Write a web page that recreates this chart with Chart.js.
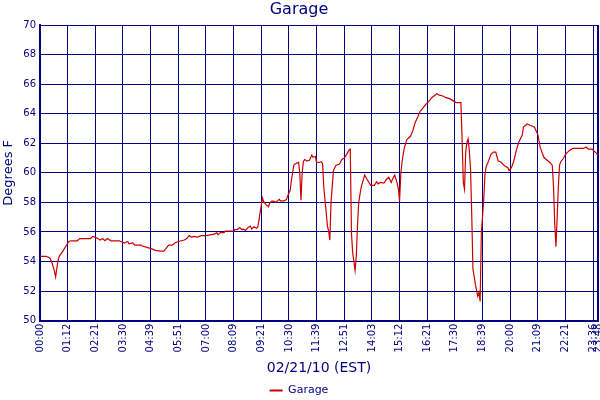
<!DOCTYPE html>
<html>
<head>
<meta charset="utf-8">
<script src="https://cdn.jsdelivr.net/npm/chart.js@4.4.1/dist/chart.umd.min.js"></script>
<style>
html,body{margin:0;padding:0;background:#fff;}
#wrap{width:600px;height:400px;position:relative;}
</style>
</head>
<body>
<div id="wrap"><canvas id="c" width="600" height="400"></canvas></div>
<script>
// Sample index (3-minute samples) and garage temperature (°F)
const sampleIdx = [
  0,1,5,8,9,10,12,13,14,15,16,19,22,24,26,31,33,42,44,47,50,52,54,56,59,66,70,73,74,77,79,84,85,89,93,96,100,103,105,107,110,112,115,120,122,124,126,128,
  131,134,138,145,147,148,150,153,154,161,162,164,166,168,169,171,173,175,176,178,180,181,182,183,184,185,186,188,190,191,193,195,196,199,200,203,205,206,208,209,210,211,212,215,216,217,218,219,220,222,224,226,227,229,230,232,234,235,
  236,238,239,240,241,242,244,246,249,251,253,255,257,258,259,260,261,262,263,264,265,267,268,270,272,275,278,280,281,283,286,288,290,292,293,295,297,298,299,300,301,302,303,305,308,310,312,314,316,318,321,324,326,330,332,335,337,341,344,346,350,
  351,352,353,354,355,356,357,358,359,360,361,362,364,365,366,367,368,369,370,371,373,375,377,379,381,383,386,389,390,392,394,396,398,401,402,405,408,411,414,416,419,421,424,426,427,428,429,430,431,432,433,435,437,440,443,448,452,454,456,459,463,464
];
const garageTemps = [
  54.4,54.35,54.35,54.25,54.1,53.9,53.35,52.95,53.55,54.05,54.35,54.7,55.1,55.35,55.4,55.4,55.55,55.55,55.7,55.6,55.45,55.55,55.4,55.55,55.4,55.4,55.25,55.35,55.2,55.25,55.1,55.1,55.05,54.95,54.85,54.75,54.7,54.7,54.9,55.1,55.1,55.25,55.35,55.45,55.55,55.75,55.65,55.7,
  55.65,55.75,55.75,55.85,55.95,55.8,55.95,55.95,56.05,56.05,56.15,56.15,56.3,56.15,56.2,56.1,56.3,56.4,56.2,56.35,56.25,56.3,56.75,57.3,57.8,58.3,58.05,57.85,57.7,57.95,58.1,58.05,58.0,58.2,58.1,58.1,58.2,58.45,58.8,59.45,60.0,60.5,60.6,60.7,60.0,58.15,60.0,60.75,60.9,60.8,60.85,61.2,61.05,61.1,60.7,60.7,60.75,60.6,
  59.0,57.3,56.4,56.05,55.45,58.0,60.15,60.5,60.6,60.9,61.0,61.25,61.55,61.6,55.9,54.6,54.0,53.4,54.35,56.4,58.0,59.0,59.3,59.85,59.55,59.15,59.15,59.4,59.25,59.35,59.3,59.55,59.7,59.35,59.55,59.85,59.3,58.9,58.1,59.9,60.7,61.25,61.7,62.25,62.45,62.85,63.4,63.75,64.15,64.35,64.65,64.9,65.1,65.35,65.25,65.2,65.1,65.0,64.85,64.75,64.75,
  62.2,59.35,58.9,61.4,62.05,62.3,61.5,60.25,57.2,53.5,53.0,52.45,51.65,51.9,51.3,55.95,57.05,58.2,59.9,60.4,60.8,61.25,61.4,61.4,60.8,60.75,60.5,60.35,60.15,60.35,60.8,61.5,62.05,62.55,63.1,63.3,63.2,63.1,62.6,61.7,61.05,60.9,60.7,60.5,59.1,56.6,55.0,56.9,59.0,60.5,60.75,60.95,61.25,61.5,61.65,61.65,61.65,61.75,61.6,61.6,61.3,61.2
];
// x-axis tick positions (sample index) and their time labels
const tickIdx = [0,23,46,69,92,115,138,161,184,207,230,253,276,299,322,345,368,391,414,437,460,464];
const tickLabels = ["00:00","01:12","02:21","03:30","04:39","05:51","07:00","08:09","09:21","10:30","11:39","12:51","14:03","15:12","16:21","17:30","18:39","20:00","21:09","22:21","23:36","23:48"];
const seriesName = "Garage";

const NAVY = '#000080';
const RED = '#cc0000';
const FONT = 'DejaVu Sans';

const points = sampleIdx.map((x, i) => ({x: x, y: garageTemps[i]}));

new Chart(document.getElementById('c'), {
  type: 'line',
  data: {
    datasets: [{
      label: seriesName,
      data: points,
      borderColor: RED,
      backgroundColor: RED,
      borderWidth: 1.2,
      pointRadius: 0,
      tension: 0,
      fill: false
    }]
  },
  options: {
    responsive: false,
    animation: false,
    events: [],
    layout: { padding: { left: 0, right: 2, top: 0, bottom: -6 } },
    plugins: {
      title: {
        display: true,
        text: 'Garage',
        color: NAVY,
        font: { family: FONT, size: 16, weight: 'normal' },
        padding: { top: 0.5, bottom: 5.3 }
      },
      legend: {
        position: 'bottom',
        labels: {
          color: NAVY,
          font: { family: FONT, size: 11 },
          boxWidth: 13,
          boxHeight: 2,
          padding: 3.4,
          generateLabels: (chart) => Chart.defaults.plugins.legend.labels.generateLabels(chart).map(l => Object.assign(l, {lineWidth: 0}))
        }
      },
      tooltip: { enabled: false }
    },
    scales: {
      x: {
        type: 'linear',
        min: 0,
        max: 464,
        afterBuildTicks: (s) => { s.ticks = tickIdx.map(v => ({value: v})); },
        afterFit: (s) => { s.height = 61; s.paddingLeft = 0; s.paddingRight = 0; },
        ticks: {
          autoSkip: false,
          maxRotation: 90,
          minRotation: 90,
          padding: 3,
          color: NAVY,
          font: { family: FONT, size: 10 },
          callback: (v) => { const i = tickIdx.indexOf(v); return i >= 0 ? tickLabels[i] : ''; }
        },
        grid: {
          color: NAVY,
          lineWidth: (ctx) => (ctx.index === tickIdx.length - 1 ? 2 : 1),
          drawTicks: false
        },
        border: { color: NAVY, width: 2 },
        title: {
          display: true,
          text: '02/21/10 (EST)',
          color: NAVY,
          font: { family: FONT, size: 14 },
          padding: { top: 0, bottom: 4.6 }
        }
      },
      y: {
        min: 50,
        max: 70,
        afterFit: (s) => { s.width = 40; s.paddingTop = 0; s.paddingBottom = 0; },
        ticks: {
          stepSize: 2,
          padding: 4,
          color: NAVY,
          font: { family: FONT, size: 10 }
        },
        grid: { color: NAVY, lineWidth: 1, drawTicks: false },
        border: { color: NAVY, width: 2 },
        title: {
          display: true,
          text: 'Degrees F',
          color: NAVY,
          font: { family: FONT, size: 13 },
          padding: { top: 1, bottom: 0 }
        }
      }
    }
  }
});
</script>
</body>
</html>
